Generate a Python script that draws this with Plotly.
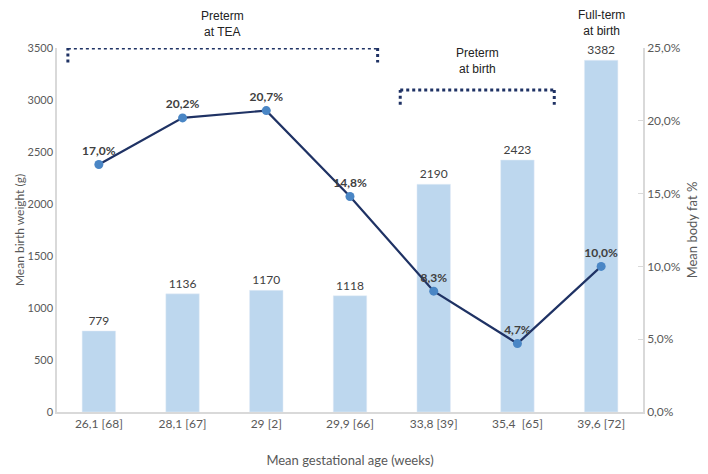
import plotly.graph_objects as go

# categories and values
age_labels = ["26,1 [68]", "28,1 [67]", "29 [2]", "29,9 [66]", "33,8 [39]", "35,4  [65]", "39,6 [72]"]
birth_weight = [779, 1136, 1170, 1118, 2190, 2423, 3382]
body_fat = [17.0, 20.2, 20.7, 14.8, 8.3, 4.7, 10.0]

# group brackets: label, first/last category index, bracket height (g)
groups = [
    ("Preterm<br>at TEA", -0.37, 3.33, 3500),
    ("Preterm<br>at birth", 3.6, 5.44, 3095),
]
fullterm_label = "Full-term<br>at birth"

x = list(range(len(age_labels)))
GRAY = "#595959"
TXT = "#404040"
FONT = "Lato, Carlito, sans-serif"
NOTE_FONT = dict(family="Liberation Sans, Arial", size=12, color="#222")

fig = go.Figure()
fig.add_trace(go.Bar(
    x=x, y=birth_weight, marker_color="#BDD7EE", width=0.4,
    text=[str(v) for v in birth_weight], textposition="outside",
    textfont=dict(color=TXT, size=12, family=FONT), cliponaxis=False,
    name="Mean birth weight",
))
fig.add_trace(go.Scatter(
    x=x, y=body_fat, yaxis="y2", mode="lines+markers+text",
    line=dict(color="#1F3264", width=2.2),
    marker=dict(color="#4A86C5", size=9),
    text=[f"{v:.1f}%".replace(".", ",") for v in body_fat],
    textposition="top center",
    textfont=dict(color=TXT, size=12, family=FONT, weight="bold"),
    cliponaxis=False, name="Mean body fat",
))

# dotted brackets over the groups
for i, (label, a, b, h) in enumerate(groups):
    drop = 140
    for x0, y0, x1, y1 in [(a, h - drop, a, h), (a, h, b, h), (b, h, b, h - drop)]:
        fig.add_shape(type="line", x0=x0, y0=y0, x1=x1, y1=y1, xref="x", yref="y",
                      line=dict(color="#1F3264", width=3, dash="dot"))
    fig.add_annotation(x=(a + b) / 2, y=h, yshift=7 if i == 0 else 12, text=label,
                       showarrow=False, yanchor="bottom", font=NOTE_FONT)
fig.add_annotation(x=6, y=birth_weight[-1], yshift=20, text=fullterm_label, showarrow=False,
                   yanchor="bottom", font=NOTE_FONT)

# the page body adds an 8px offset, so the figure is 8px smaller
fig.update_layout(
    width=700, height=466,
    margin=dict(l=49, r=65, t=40, b=62),
    plot_bgcolor="white", paper_bgcolor="white",
    showlegend=False, separators=",.",
    font=dict(family=FONT, color=GRAY, size=12),
    xaxis=dict(tickvals=x, ticktext=age_labels, range=[-0.5, 6.5], automargin=False,
               showline=True, linecolor="#D9D9D9", linewidth=1.5, showgrid=False,
               ticks="",
               title=dict(text="Mean gestational age (weeks)", standoff=26,
                          font=dict(size=13, color=GRAY))),
    yaxis=dict(range=[0, 3500], dtick=500, showgrid=False, zeroline=False, automargin=False,
               showline=True, linecolor="#D9D9D9", linewidth=1.5, ticks="",
               tickfont=dict(size=11),
               title=dict(text="Mean birth weight (g)", standoff=0, font=dict(size=12, color=GRAY))),
    yaxis2=dict(range=[0, 25], dtick=5, overlaying="y", side="right", automargin=False,
                tickformat=".1f", ticksuffix="%", showgrid=False, zeroline=False,
                showline=True, linecolor="#D9D9D9", linewidth=1.5,
                ticks="inside", ticklen=5, tickcolor="#D9D9D9",
                title=dict(text="Mean body fat %", standoff=8, font=dict(size=13, color=GRAY))),
)

fig.write_html("out.html")
